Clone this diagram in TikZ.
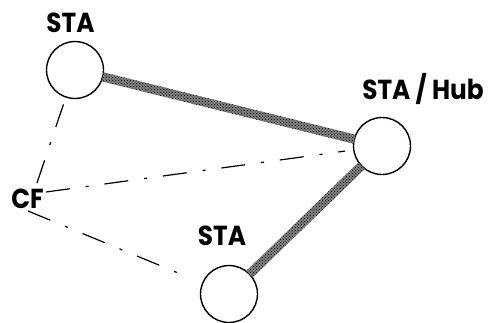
\documentclass[tikz,border=0pt]{standalone}
\usepackage{fontspec}
\setmainfont{Poppins}[FakeStretch=0.9]
\usetikzlibrary{calc,patterns}
\begin{document}
\begin{tikzpicture}[x=1pt,y=-1pt,
  station/.style={circle,draw,line width=1.4pt,minimum size=57pt,inner sep=0pt},
  lbl/.style={font=\bfseries\fontsize{27.5}{30}\selectfont,inner sep=0pt,anchor=base},
  cfline/.style={line width=1.2pt,dash pattern=on 24pt off 16pt on 3pt off 16pt}]
\useasboundingbox (0,0) rectangle (492,322);
\node[station] (s1) at (75,70) {};
\node[station] (hub) at (382,146) {};
\node[station] (s2) at (229,294) {};
\node[lbl] (l1) at (70.5,32) {STA};
\node[lbl] (l2) at (423,99) {STA / Hub};
\node[lbl] (l3) at (222,245) {STA};
\node[lbl] (cf) at (27.5,208) {CF};
\coordinate (cfa) at (37,183);
\coordinate (cfb) at (46,192);
\coordinate (cfc) at (28,211);
% hatched links
\foreach \a/\b in {s1/hub, hub/s2}{
  \coordinate (P) at ($(\a)!28.5pt!(\b)$);
  \coordinate (Q) at ($(\b)!28.5pt!(\a)$);
  \fill[black!50] ($(P)!4.6pt!90:(Q)$) -- ($(Q)!4.6pt!-90:(P)$) -- ($(Q)!4.6pt!90:(P)$) -- ($(P)!4.6pt!-90:(Q)$) -- cycle;
  \fill[pattern=crosshatch dots,pattern color=black] ($(P)!4.6pt!90:(Q)$) -- ($(Q)!4.6pt!-90:(P)$) -- ($(Q)!4.6pt!90:(P)$) -- ($(P)!4.6pt!-90:(Q)$) -- cycle;
}
\draw[cfline,shorten >=3pt] (cfa) -- (s1);
\draw[cfline,shorten >=8pt] (cfb) -- (hub);
\draw[cfline,shorten >=16pt] (cfc) -- (s2);
\end{tikzpicture}
\end{document}
